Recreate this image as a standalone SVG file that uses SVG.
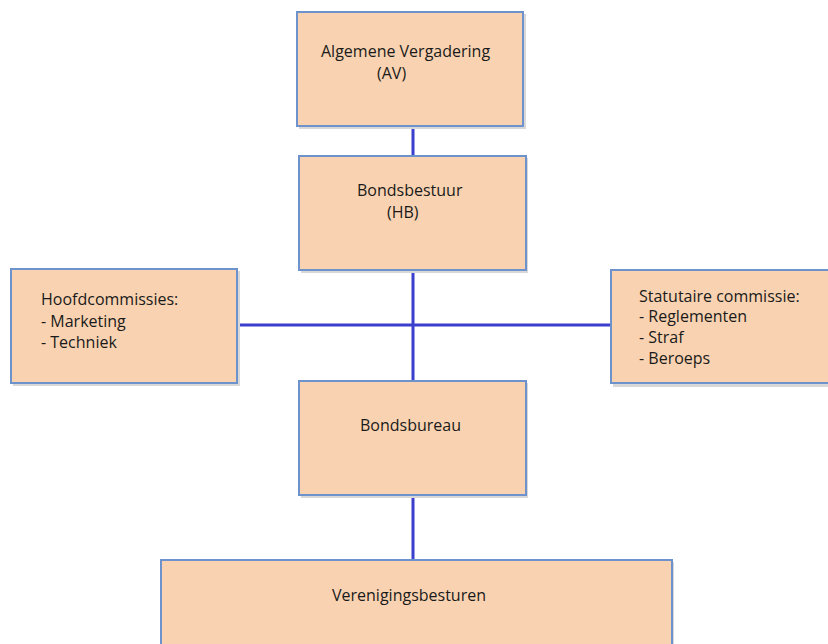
<svg xmlns="http://www.w3.org/2000/svg" width="828" height="644" viewBox="0 0 828 644">
<style>
.box{fill:#f9d3b1;stroke:#6e93cc;stroke-width:2}
.sh{fill:#d8d8d8}
text{font-family:"Open Sans","Liberation Sans",sans-serif;font-size:16px;fill:#1a1a1a}
.conn line{stroke:#3b3fcc;stroke-width:3}
</style>
<rect width="828" height="644" fill="#fff"/>
<g id="connectors" class="conn">
<line x1="413" y1="126" x2="413" y2="156"/>
<line x1="413" y1="270" x2="413" y2="381"/>
<line x1="237" y1="325" x2="611" y2="325"/>
<line x1="413" y1="495" x2="413" y2="560"/>
</g>
<g id="av">
<rect class="sh" x="299" y="14" width="227" height="115"/>
<rect class="box" x="297" y="12" width="226" height="114"/>
<text x="321" y="57">Algemene Vergadering</text>
<text x="377" y="79">(AV)</text>
</g>
<g id="hb">
<rect class="sh" x="301" y="158" width="227" height="115"/>
<rect class="box" x="299" y="156" width="227" height="114"/>
<text x="357" y="196">Bondsbestuur</text>
<text x="387" y="218">(HB)</text>
</g>
<g id="hoofdcommissies">
<rect class="sh" x="13" y="271" width="227" height="115"/>
<rect class="box" x="11" y="269" width="226" height="114"/>
<text x="41" y="305">Hoofdcommissies:</text>
<text x="41" y="327">- Marketing</text>
<text x="41" y="348">- Techniek</text>
</g>
<g id="statutaire">
<rect class="sh" x="613" y="272" width="230" height="115"/>
<rect class="box" x="611" y="270" width="230" height="113"/>
<text x="639" y="302">Statutaire commissie:</text>
<text x="639" y="322">- Reglementen</text>
<text x="639" y="343">- Straf</text>
<text x="639" y="364">- Beroeps</text>
</g>
<g id="bondsbureau">
<rect class="sh" x="301" y="383" width="227" height="115"/>
<rect class="box" x="299" y="381" width="227" height="114"/>
<text x="360" y="431">Bondsbureau</text>
</g>
<g id="verenigingsbesturen">
<rect class="sh" x="163" y="562" width="511" height="100"/>
<rect class="box" x="161" y="560" width="511" height="100"/>
<text x="332" y="601">Verenigingsbesturen</text>
</g>
</svg>
